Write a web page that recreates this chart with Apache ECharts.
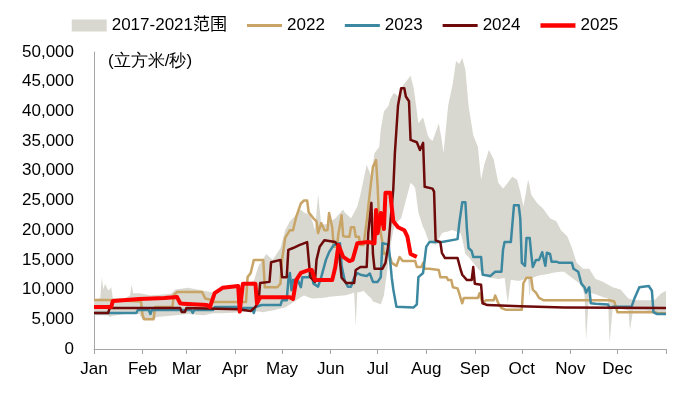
<!DOCTYPE html>
<html>
<head>
<meta charset="utf-8">
<script src="https://cdn.jsdelivr.net/npm/echarts@6/dist/echarts.min.js"></script>
<style>html,body{margin:0;padding:0;background:#fff}#c{width:690px;height:394px}</style>
</head>
<body>
<div id="c"></div>
<script>
// ---- tick labels / categories ----
const monthLabels = ['Jan','Feb','Mar','Apr','May','Jun','Jul','Aug','Sep','Oct','Nov','Dec'];
const monthStartDays = [0,31,59,90,120,151,181,212,243,273,304,334];
const yearEndDay = 365;
const unitLabel = '(立方米/秒)';
const seriesNames = ['2017-2021范围','2022','2023','2024','2025'];

// ---- 2017-2021 range (day of year, max, min) ----
const bandDays = [0,4,5,6,7,9,10,11,12,20,23,24,25,29,31,36,38,40,49,52,60,70,76,81,89,98,102,105,108,110,114,119,122,125,128,132,134,138,140,141,143,145,149,150,154,159,160,164,166,167,168,170,172,174,177,178,179,182,183,185,186,188,189,191,192,194,196,199,202,204,205,207,210,211,213,214,216,218,220,222,223,226,228,229,231,233,234,235,237,239,242,245,247,249,252,255,258,261,262,264,266,267,270,272,274,277,278,279,280,283,286,287,291,292,295,298,300,302,305,308,310,312,313,314,316,320,322,325,328,329,331,336,341,342,344,347,352,354,358,362,365];
const bandHigh = [8250,8600,12100,10000,11000,9900,10000,10400,8600,8600,9000,10800,9400,9400,9300,9000,9100,9100,9300,10000,10300,9800,9500,10000,10400,11100,11500,14000,15200,16000,15000,17000,20000,21500,22300,23500,23000,22500,21000,20000,26000,21000,21000,21300,22000,23500,23000,22000,23000,23500,24000,26000,28500,31000,29000,31000,33000,34000,37000,40000,40300,41000,42000,43000,43000,42500,44000,45000,46000,44000,42000,38000,39000,38000,36000,35500,35000,36500,38000,35000,33000,41000,43500,44800,48500,48000,48500,49000,47000,41000,36000,34000,28500,31000,33500,32000,28000,27000,27300,28000,28700,29000,28500,26500,24000,28500,27500,26000,25600,24500,23800,23500,22000,21900,21500,20000,19500,19000,17000,14500,14000,13500,13500,13500,13500,11800,11600,11300,10800,10700,10400,10000,8500,8400,8300,8200,8200,8200,8300,9400,9800];
const bandLow = [5700,5700,5700,5700,5700,5700,5400,5500,5600,5900,5900,5900,5900,5900,4900,4900,4900,5400,5600,5700,5900,5700,6000,6000,6100,6300,6300,6300,6200,6300,6500,6800,7000,7500,8000,8700,9000,8600,8500,8500,8600,8600,8700,8800,8900,9000,9000,9300,9500,3800,9500,9600,9800,9200,8500,8000,7900,7600,7500,9000,11000,15000,17000,20000,21000,21500,22000,25000,28000,27500,27000,23000,20500,20000,18500,18000,17800,17500,18500,19500,19600,19800,20000,20000,19800,19600,19500,18500,16000,15500,14500,13500,13000,12600,12000,11900,11800,11900,12000,7700,11600,11600,11500,11500,11700,12000,8700,12000,12000,12300,12500,12500,12700,12800,12900,13000,13000,12600,12000,11400,11000,10000,9000,1500,9500,9200,9000,8700,8500,1000,7000,6800,6500,3200,6500,6500,6500,6400,6200,6100,6000];

// ---- 2022 ----
const days2022 = [0,9,10,30,31,32,38,39,50,51,53,69,71,75,76,97,98,100,102,108,109,117,119,120,122,125,127,129,132,134,136,137,140,142,143,145,147,149,150,152,153,155,156,158,159,161,163,164,166,167,169,170,172,174,176,178,180,181,182,184,185,188,190,193,195,197,205,206,209,210,211,214,220,221,225,226,228,229,232,233,234,235,236,245,246,247,248,250,255,256,257,258,260,263,273,274,276,279,280,282,284,287,329,330,332,334,358,360,365];
const vals2022 = [8250,8250,8000,8000,5700,5000,5000,7070,7070,9100,9600,9600,8500,8250,7900,7900,12100,12800,15000,15000,10400,10400,11000,15000,18700,20000,20000,22200,24500,25000,25000,23000,22000,21500,19500,21200,20000,20000,22900,20500,17200,17200,19500,22500,19000,18900,18900,20500,20500,18900,18900,17500,17500,21500,26300,30700,31800,27300,21000,18000,16000,16300,14500,14000,15500,14800,14800,13800,13800,14500,13500,13500,13300,12100,12100,11600,11600,10400,10200,9400,8500,7700,8600,8600,9400,9400,7700,8200,8200,9000,9000,7700,6900,6600,6600,11100,12000,12000,10000,9500,8600,8200,8200,8000,8000,6200,6200,6000,6000];

// ---- 2023 ----
const days2023 = [0,27,28,35,36,37,62,63,64,76,77,92,93,94,101,102,103,107,119,120,123,124,125,126,127,130,132,133,137,139,140,143,145,148,150,153,157,158,160,162,164,166,168,170,174,176,178,181,183,184,188,190,191,193,204,206,207,210,212,214,222,232,233,235,237,238,239,241,242,247,248,253,256,260,261,262,266,268,271,272,273,275,276,278,279,280,282,284,286,287,288,289,291,292,295,297,305,306,309,311,313,314,315,316,317,320,328,329,331,343,345,348,354,356,357,359,365];
const vals2023 = [6060,6060,6570,6570,5900,6570,6570,6060,6570,6570,7070,7070,6200,6900,6900,6060,7070,7400,7400,8200,8200,11600,12800,9900,11600,11600,10400,12100,12100,12800,11000,10500,12100,15000,16300,17500,17800,14000,11500,10500,10500,12000,12800,12500,12300,12700,11300,11300,12100,17800,17600,12000,10000,7100,7000,7500,12100,12800,17200,18000,18000,18500,21000,24700,24700,20000,17000,16500,15500,15500,12500,12300,13000,13000,16700,18000,18000,24200,24200,22000,14500,14000,18700,18700,16000,13800,15000,15000,16300,16300,14000,16200,16000,14700,14700,14500,14500,13500,13000,11000,10400,9500,10000,10400,7700,7600,7500,6900,7100,7100,8600,10400,10600,9800,6200,5900,5900];

// ---- 2024 ----
const days2024 = [0,9,10,55,56,58,59,92,93,100,103,105,106,112,113,119,120,123,124,127,131,136,137,138,141,142,144,147,154,156,158,161,166,167,170,174,175,177,178,179,184,186,188,189,191,192,194,196,198,199,201,202,206,208,210,211,216,217,218,221,222,224,232,234,235,238,241,242,243,247,248,251,272,300,365];
const vals2024 = [6060,6060,6900,6900,6230,6230,6900,6700,6400,6400,7100,8000,11100,11300,14600,15000,12100,12100,16700,17000,17500,18000,17800,12100,11300,15000,17200,18300,18000,17200,12000,11100,11100,13300,13800,13800,19500,24600,16000,13500,13500,14500,17800,21000,27000,33000,41000,43900,43900,42500,41700,35200,34800,33500,34700,27300,27000,26500,18300,18000,16200,15300,15300,13300,12500,11600,11600,13800,11000,10800,7700,7400,7200,7000,6900];

// ---- 2025 ----
const days2025 = [0,11,12,29,45,53,55,57,72,74,77,82,92,93,95,103,104,106,125,127,129,132,137,139,141,152,154,156,159,163,165,168,175,179,180,181,183,185,186,189,191,194,198,200,202,206];
const vals2025 = [7070,7070,8080,8400,8600,8750,7700,7600,7400,7070,9400,10300,10600,6300,11000,11000,7700,8700,8700,8400,11600,12800,13300,13300,11600,11600,13800,17500,15500,14800,15000,17800,18000,17800,23400,19500,22900,20200,26300,26300,21500,20500,20000,18900,16000,15500];

// ---- build ----
const pairs = (d, v) => d.map((x, i) => [x, v[i]]);
const FONT = "'Liberation Sans', Arial, 'Noto Sans CJK SC', sans-serif";
const C_BAND = '#D9D8D0', C22 = '#C8A466', C23 = '#3B88A0', C24 = '#6E0A0A', C25 = '#FF0000';
const AXIS_C = '#A6A6A6';

const chart = echarts.init(document.getElementById('c'), null, {renderer: 'canvas'});
const lineSeries = (name, d, v, color, width, z) => ({
  name, type: 'line', data: pairs(d, v), showSymbol: false, symbol: 'none',
  lineStyle: {color, width, join: 'round'}, itemStyle: {color}, z, silent: true
});
const barIcon = h => 'path://M0,0H35V' + h + 'H0Z';

chart.setOption({
  animation: false,
  textStyle: {fontFamily: FONT},
  grid: {left: 94, right: 24, top: 52, bottom: 45, containLabel: false},
  legend: {
    top: 12, left: 'center', itemWidth: 35, itemHeight: 12, itemGap: 20,
    textStyle: {fontSize: 17, color: '#000', fontFamily: FONT},
    data: [
      {name: seriesNames[0], icon: 'rect'},
      {name: seriesNames[1], icon: barIcon(3)},
      {name: seriesNames[2], icon: barIcon(3)},
      {name: seriesNames[3], icon: barIcon(3)},
      {name: seriesNames[4], icon: barIcon(4.5)}
    ]
  },
  graphic: [{
    type: 'text', left: 108, top: 53,
    style: {text: unitLabel, fontSize: 17, fill: '#000', font: '17px ' + FONT}
  }],
  xAxis: {
    type: 'value', min: 0, max: yearEndDay,
    axisLine: {show: true, lineStyle: {color: AXIS_C, width: 1}},
    axisTick: {show: true, length: 5, customValues: monthStartDays.concat([yearEndDay]), lineStyle: {color: AXIS_C}},
    axisLabel: {
      customValues: monthStartDays, fontSize: 17, color: '#000', margin: 12, fontFamily: FONT,
      formatter: v => monthLabels[monthStartDays.indexOf(v)]
    },
    splitLine: {show: false}
  },
  yAxis: {
    type: 'value', min: 0, max: 50000, interval: 5000,
    axisLine: {show: true, lineStyle: {color: AXIS_C, width: 1}},
    axisTick: {show: false},
    axisLabel: {fontSize: 17, color: '#000', margin: 20, fontFamily: FONT,
      formatter: v => v.toLocaleString('en-US')},
    splitLine: {show: false}
  },
  series: [
    {
      name: seriesNames[0], type: 'custom', silent: true, z: 1,
      data: [[bandDays[0], bandLow[0]]],
      encode: {x: 0, y: 1},
      itemStyle: {color: C_BAND},
      renderItem: (params, api) => {
        const pts = [];
        for (let i = 0; i < bandDays.length; i++) pts.push(api.coord([bandDays[i], bandHigh[i]]));
        for (let i = bandDays.length - 1; i >= 0; i--) pts.push(api.coord([bandDays[i], bandLow[i]]));
        return {type: 'polygon', shape: {points: pts}, style: {fill: C_BAND}};
      }
    },
    lineSeries(seriesNames[1], days2022, vals2022, C22, 2.5, 2),
    lineSeries(seriesNames[2], days2023, vals2023, C23, 2.5, 3),
    lineSeries(seriesNames[3], days2024, vals2024, C24, 2.5, 4),
    lineSeries(seriesNames[4], days2025, vals2025, C25, 4, 5)
  ]
});
</script>
</body>
</html>
